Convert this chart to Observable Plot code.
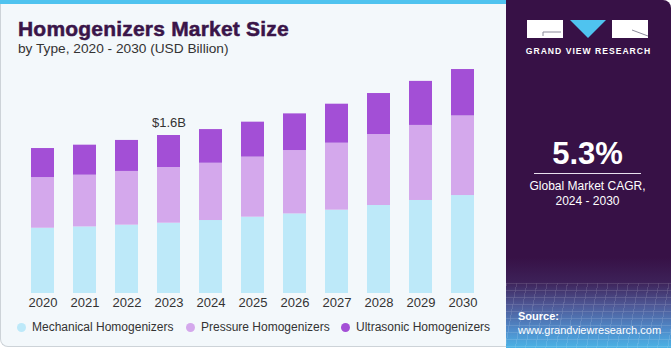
<!DOCTYPE html>
<html>
<head>
<meta charset="utf-8">
<script src="https://cdn.jsdelivr.net/npm/d3@7"></script>
<script src="https://cdn.jsdelivr.net/npm/@observablehq/plot@0.6"></script>
<style>
  html, body { margin: 0; padding: 0; background: #ffffff; }
  body { font-family: "Liberation Sans", Arial, sans-serif; }
  #wrap { position: relative; width: 671px; height: 350px; overflow: hidden; background: #ffffff; }
  #main { position: absolute; left: 0; top: 0; width: 520px; height: 347px; background: #f3f8fb;
          border-left: 1px solid #cdd3d8; border-bottom: 1px solid #cdd3d8; border-bottom-left-radius: 8px; box-sizing: border-box; }
  #stripe { position: absolute; left: 0; top: 0; width: 520px; height: 4px; background: #4fc3ef; }
  #title { position: absolute; left: 18px; top: 18px; font-size: 21px; line-height: 1; font-weight: bold; color: #3a1549;
           letter-spacing: 0.2px; -webkit-text-stroke: 0.5px #3a1549; white-space: nowrap; }
  #subtitle { position: absolute; left: 18px; top: 41.7px; font-size: 13.7px; line-height: 1; color: #333; white-space: nowrap; }
  #chart { position: absolute; left: 0; top: 40px; }
  .leg { position: absolute; top: 320px; font-size: 12px; line-height: 14px; color: #333; white-space: nowrap; }
  .dot { position: absolute; top: 322.5px; width: 9px; height: 9px; border-radius: 50%; }
  #panel { position: absolute; left: 506px; top: 0; width: 165px; height: 348px; border-top-right-radius: 8px; overflow: hidden;
           background: linear-gradient(to bottom, #371146 0%, #371146 74%, #3d2158 81%, #4f5a98 88%, #4f8dcc 95%, #4bb3e6 100%); }
  #grid { position: absolute; left: 0; top: 283px; width: 165px; height: 65px; opacity: 0.2;
          background-image: repeating-linear-gradient(to bottom, rgba(255,255,255,0.6) 0px, rgba(255,255,255,0.6) 1px, transparent 1px, transparent 7px),
                            repeating-linear-gradient(100deg, rgba(255,255,255,0.6) 0px, rgba(255,255,255,0.6) 1px, transparent 1px, transparent 10px); }
  .pt { position: absolute; color: #ffffff; white-space: nowrap; }
</style>
</head>
<body>
<div id="wrap">
  <div id="main"></div>
  <div id="stripe"></div>
  <div id="title"></div>
  <div id="subtitle"></div>
  <div id="chart"></div>
  <div id="legend"></div>
  <div id="panel">
    <div id="grid"></div>
    <svg style="position:absolute;left:0;top:0" width="165" height="60">
      <rect x="21" y="20" width="36" height="18" fill="#ffffff"/>
      <path d="M37 32 H55 M37 32 V36" stroke="#8a8a9a" stroke-width="1" fill="none"/>
      <path d="M64 20 H100 L82 38 Z" fill="#4fc3ef"/>
      <rect x="106" y="20" width="36" height="18" fill="#ffffff"/>
      <path d="M126 30 L142 36" stroke="#8a8a9a" stroke-width="1" fill="none"/>
    </svg>
    <div class="pt" style="left:0;width:165px;text-align:center;top:46px;font-size:8.6px;font-weight:bold;letter-spacing:1px;line-height:10px">GRAND VIEW RESEARCH</div>
    <div class="pt" id="cagr" style="left:0;width:163px;text-align:center;top:138px;font-size:31px;font-weight:bold;line-height:31px"></div>
    <div style="position:absolute;left:28px;top:173px;width:107px;height:1px;background:#e8e0ee"></div>
    <div class="pt" id="cagrText" style="left:0;width:163px;text-align:center;top:179px;font-size:12px;line-height:15px"></div>
    <div class="pt" style="left:12px;top:310px;font-size:11px;font-weight:bold;line-height:12px">Source:</div>
    <div class="pt" style="left:12px;top:324px;font-size:11px;line-height:12px">www.grandviewresearch.com</div>
  </div>
</div>
<script>
// ---- Data ----
const titleText = "Homogenizers Market Size";
const subtitleText = "by Type, 2020 - 2030 (USD Billion)";
const years = ["2020","2021","2022","2023","2024","2025","2026","2027","2028","2029","2030"];
const types = ["Mechanical Homogenizers", "Pressure Homogenizers", "Ultrasonic Homogenizers"];
const mechanical = [0.661, 0.674, 0.692, 0.712, 0.739, 0.773, 0.806, 0.844, 0.891, 0.942, 0.992];
const pressure   = [0.513, 0.524, 0.544, 0.564, 0.580, 0.608, 0.642, 0.678, 0.719, 0.760, 0.806];
const ultrasonic = [0.294, 0.304, 0.314, 0.324, 0.341, 0.354, 0.371, 0.395, 0.415, 0.446, 0.470];
const colors = ["#bde9f9", "#d4a8ec", "#a34fd6"];
const labelYear = "2023";
const labelText = "$1.6B";
const cagrValue = "5.3%";
const cagrLines = ["Global Market CAGR,", "2024 - 2030"];

// ---- Build table ----
const series = [mechanical, pressure, ultrasonic];
const rows = [];
years.forEach((y, i) => types.forEach((t, k) => rows.push({year: y, type: t, value: series[k][i]})));
const li = years.indexOf(labelYear);
const labelRows = [{year: labelYear, total: mechanical[li] + pressure[li] + ultrasonic[li], label: labelText}];

document.getElementById("title").textContent = titleText;
document.getElementById("subtitle").textContent = subtitleText;
document.getElementById("cagr").textContent = cagrValue;
document.getElementById("cagrText").innerHTML = cagrLines.join("<br>");

const chart = Plot.plot({
  width: 500,
  height: 275,
  marginTop: 16,
  marginBottom: 22,
  marginLeft: 12,
  marginRight: 7,
  style: {background: "transparent", fontFamily: "'Liberation Sans', Arial, sans-serif", fontSize: "13px", color: "#333"},
  x: {type: "band", domain: years, padding: 0.45, label: null, tickSize: 0, tickPadding: 4},
  y: {domain: [0, 2.4], axis: null},
  color: {domain: types, range: colors},
  marks: [
    Plot.barY(rows, {x: "year", y: "value", fill: "type", order: types}),
    Plot.text(labelRows, {x: "year", y: "total", text: "label", dy: -9, lineAnchor: "bottom", fontSize: 13, fill: "#333"})
  ]
});
document.getElementById("chart").appendChild(chart);

// ---- Legend ----
const legend = document.getElementById("legend");
const dotX = [16.5, 185.5, 340.5];
const textX = [32, 201, 356];
types.forEach((t, k) => {
  const d = document.createElement("div");
  d.className = "dot"; d.style.left = dotX[k] + "px"; d.style.background = colors[k];
  legend.appendChild(d);
  const s = document.createElement("div");
  s.className = "leg"; s.style.left = textX[k] + "px"; s.textContent = t;
  legend.appendChild(s);
});
</script>
</body>
</html>
